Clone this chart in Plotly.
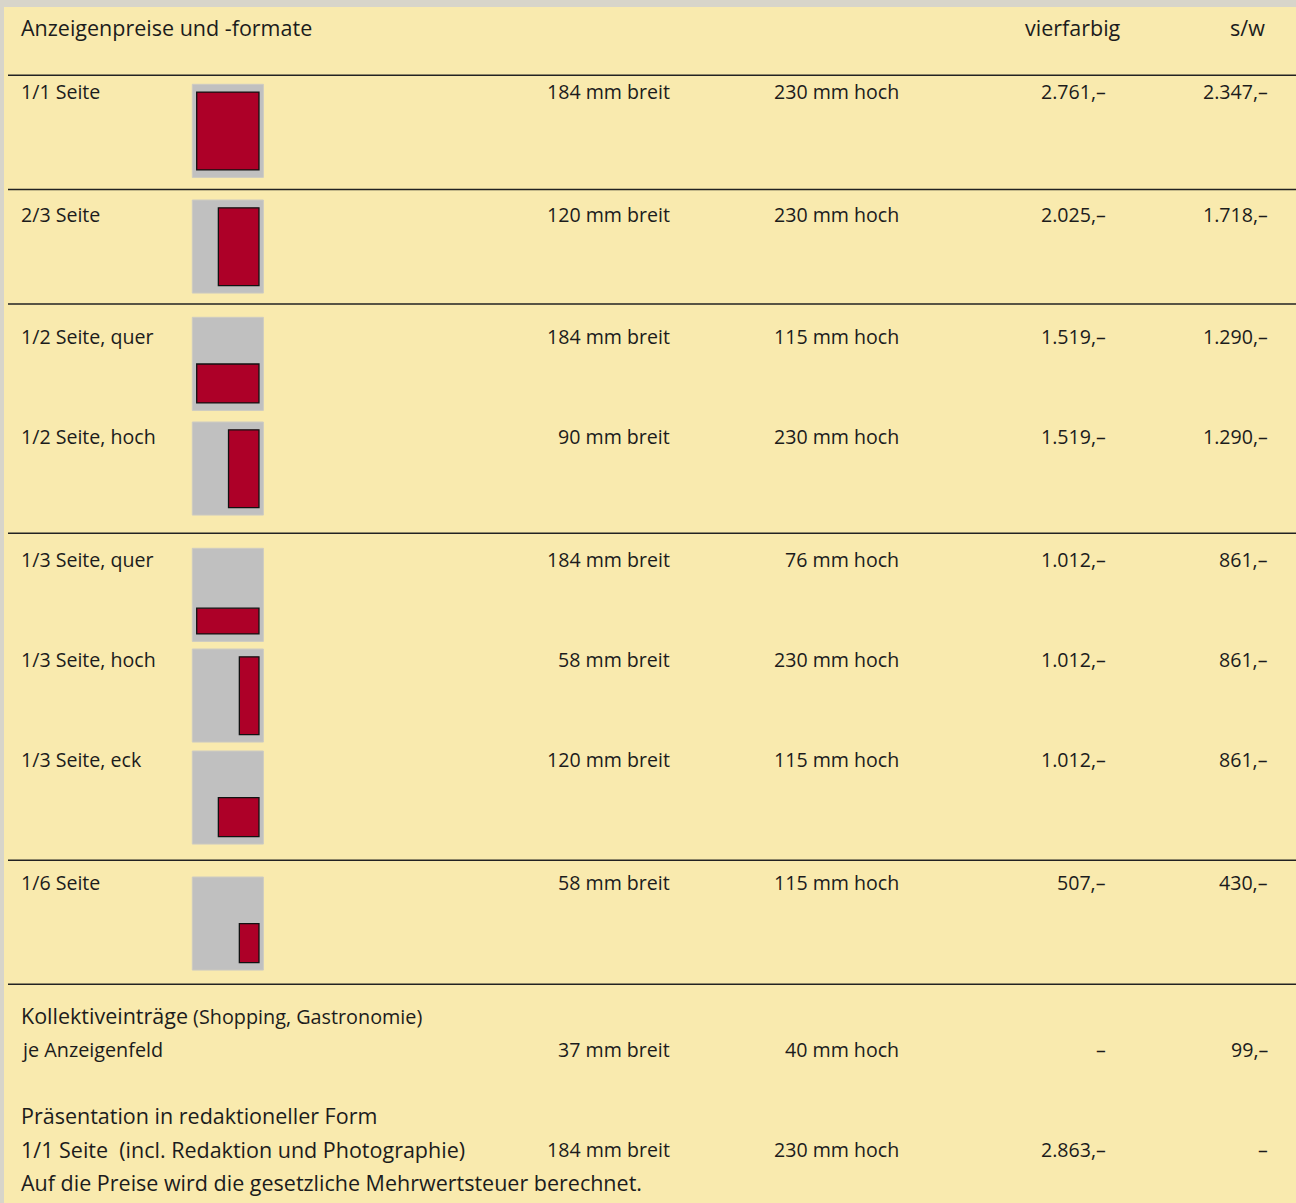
import plotly.graph_objects as go

# ---------------- data ----------------
title = "Anzeigenpreise und -formate"
col_headers = ["vierfarbig", "s/w"]

formats = ["1/1 Seite", "2/3 Seite", "1/2 Seite, quer", "1/2 Seite, hoch",
           "1/3 Seite, quer", "1/3 Seite, hoch", "1/3 Seite, eck", "1/6 Seite"]
width_mm = [184, 120, 184, 90, 184, 58, 120, 58]
height_mm = [230, 230, 115, 230, 76, 230, 115, 115]
price_4c = [2761, 2025, 1519, 1519, 1012, 1012, 1012, 507]
price_sw = [2347, 1718, 1290, 1290, 861, 861, 861, 430]

kollektiv_title = "Kollektiveinträge"
kollektiv_note = "(Shopping, Gastronomie)"
kollektiv_label = "je Anzeigenfeld"
kollektiv_width_mm = 37
kollektiv_height_mm = 40
kollektiv_price_4c = None
kollektiv_price_sw = 99

praes_title = "Präsentation in redaktioneller Form"
praes_label = "1/1 Seite  (incl. Redaktion und Photographie)"
praes_width_mm = 184
praes_height_mm = 230
praes_price_4c = 2863
praes_price_sw = None

footnote = "Auf die Preise wird die gesetzliche Mehrwertsteuer berechnet."

page_mm = [210, 275]          # page size of pictogram
type_area_mm = [184, 230]     # type area
type_offset_mm = [13, 23]     # type area offset from page top-left

# ---------------- layout constants ----------------
W, H = 1296, 1203
BG = "#f9eaae"
BAND = "#d8d5ca"
TXT = "#1c1c1c"
RED = "#ad0028"
GRAY = "#c0c0c0"
FONT = "Open Sans"
FS = 19.6       # table body
FS_HEAD = 21.5  # header / emphasised lines
FS_NOTE = 19.8  # narrow annotations

PX_PER_MM = 0.3385
ROW_Y = [91, 214, 336, 436, 559, 659, 759, 882]
BOX_TOP = [84.3, 200, 317.3, 422, 548.3, 649, 751, 877]
BOX_LEFT = 192.3
RULES_Y = [75.3, 189.5, 304, 533.3, 860.3, 984.3]

X_LABEL = 21
X_BREIT = 670
X_HOCH = 899
X_4C = 1106
X_SW = 1268


def eur(v):
    if v is None:
        return "–"
    return f"{v:,}".replace(",", ".") + ",–"


fig = go.Figure()
shapes = []
ann = []


def text(x, y, s, anchor="left", size=FS, weight=400, family=FONT):
    ann.append(dict(x=x, y=y, xref="x", yref="y", text=s, showarrow=False,
                    xanchor=anchor, yanchor="middle", borderwidth=0, borderpad=0,
                    font=dict(family=family, size=size, color=TXT, weight=weight)))


# background bands
shapes.append(dict(type="rect", xref="x", yref="y", x0=0, x1=W, y0=0, y1=7,
                   fillcolor=BAND, line=dict(width=0), layer="below"))
shapes.append(dict(type="rect", xref="x", yref="y", x0=0, x1=4, y0=0, y1=H,
                   fillcolor=BAND, line=dict(width=0), layer="below"))

# rules
for ry in RULES_Y:
    shapes.append(dict(type="line", xref="x", yref="y", x0=8, x1=W, y0=ry, y1=ry,
                       line=dict(color="#222222", width=1.5)))

# header
text(X_LABEL, 27, title, size=FS_HEAD)
text(1121, 27, col_headers[0], anchor="right", size=FS_HEAD)
text(1265, 27, col_headers[1], anchor="right", size=FS_HEAD)

# format rows
for i, name in enumerate(formats):
    y = ROW_Y[i]
    text(X_LABEL, y, name)
    text(X_BREIT, y, f"{width_mm[i]} mm breit", anchor="right")
    text(X_HOCH, y, f"{height_mm[i]} mm hoch", anchor="right")
    text(X_4C, y, eur(price_4c[i]), anchor="right")
    text(X_SW, y, eur(price_sw[i]), anchor="right")

    # pictogram: page
    top = BOX_TOP[i]
    shapes.append(dict(type="rect", xref="x", yref="y",
                       x0=BOX_LEFT, x1=BOX_LEFT + page_mm[0] * PX_PER_MM,
                       y0=top, y1=top + page_mm[1] * PX_PER_MM,
                       fillcolor=GRAY, line=dict(color="#cdcbc2", width=1)))
    # ad placed at bottom-right of the type area
    ta_right = BOX_LEFT + (type_offset_mm[0] + type_area_mm[0]) * PX_PER_MM
    ta_bottom = top + (type_offset_mm[1] + type_area_mm[1]) * PX_PER_MM
    shapes.append(dict(type="rect", xref="x", yref="y",
                       x0=ta_right - width_mm[i] * PX_PER_MM, x1=ta_right,
                       y0=ta_bottom - height_mm[i] * PX_PER_MM, y1=ta_bottom,
                       fillcolor=RED, line=dict(color="#111111", width=1.3)))

# Kollektiveinträge
text(X_LABEL, 1015,
     f"<span style='font-size:{FS_HEAD}px'>{kollektiv_title}</span>"
     f"<span style='font-size:{FS_NOTE}px'> {kollektiv_note}</span>")
text(X_LABEL, 1049, kollektiv_label, size=FS_NOTE)
text(X_BREIT, 1049, f"{kollektiv_width_mm} mm breit", anchor="right")
text(X_HOCH, 1049, f"{kollektiv_height_mm} mm hoch", anchor="right")
text(X_4C, 1049, eur(kollektiv_price_4c), anchor="right")
text(X_SW, 1049, eur(kollektiv_price_sw), anchor="right")

# Präsentation
text(X_LABEL, 1115, praes_title, size=FS_HEAD)
text(X_LABEL, 1149, praes_label, size=FS_HEAD)
text(X_BREIT, 1149, f"{praes_width_mm} mm breit", anchor="right")
text(X_HOCH, 1149, f"{praes_height_mm} mm hoch", anchor="right")
text(X_4C, 1149, eur(praes_price_4c), anchor="right")
text(X_SW, 1149, eur(praes_price_sw), anchor="right")

text(X_LABEL, 1182, footnote, size=FS_HEAD)

fig.update_layout(
    width=W, height=H,
    margin=dict(l=0, r=0, t=0, b=0, pad=0),
    paper_bgcolor=BG, plot_bgcolor=BG,
    xaxis=dict(range=[0, W], visible=False, fixedrange=True),
    yaxis=dict(range=[H, 0], visible=False, fixedrange=True),
    shapes=shapes, annotations=ann, showlegend=False,
)

fig.write_html("out.html", config={"displayModeBar": False},
               post_script="document.body.style.margin='0';")
